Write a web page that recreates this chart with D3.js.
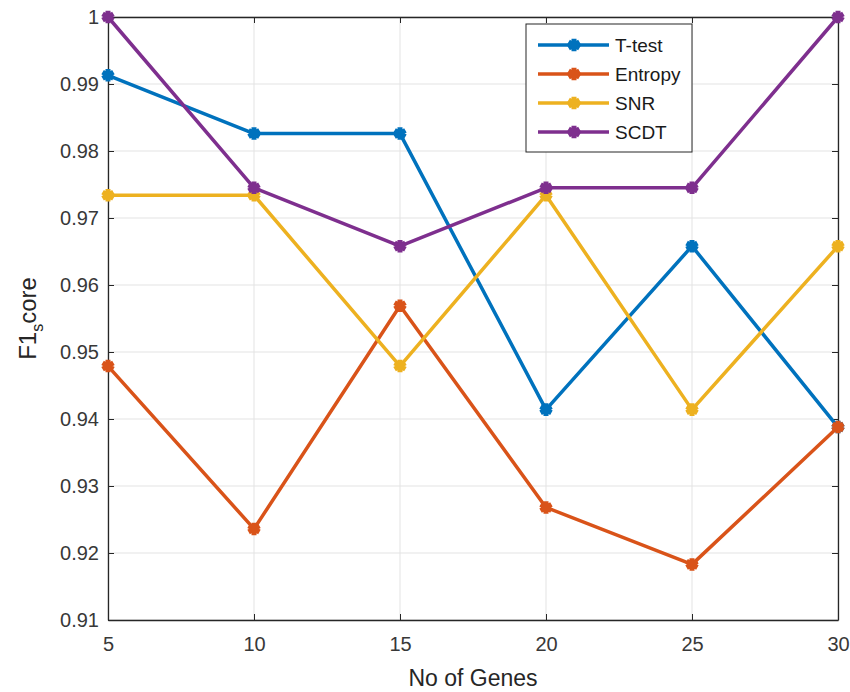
<!DOCTYPE html>
<html>
<head>
<meta charset="utf-8">
<script src="https://cdn.jsdelivr.net/npm/d3@7"></script>
<style>
body { margin: 0; background: #fff; }
text { font-family: "Liberation Sans", Arial, sans-serif; }
</style>
</head>
<body>
<script>
var genes = [5, 10, 15, 20, 25, 30];
var ttest = [0.9913, 0.9826, 0.9826, 0.9414, 0.9658, 0.9388];
var entropy = [0.9479, 0.9236, 0.9569, 0.9268, 0.9183, 0.9388];
var snr = [0.9734, 0.9734, 0.9479, 0.9734, 0.9414, 0.9658];
var scdt = [1.0, 0.9745, 0.9658, 0.9745, 0.9745, 1.0];
var seriesNames = ["T-test", "Entropy", "SNR", "SCDT"];
var seriesColors = ["#0072BD", "#D95319", "#EDB120", "#7E2F8E"];
var yTicks = [0.91, 0.92, 0.93, 0.94, 0.95, 0.96, 0.97, 0.98, 0.99, 1];

var allSeries = [ttest, entropy, snr, scdt];

var W = 850, H = 692;
var pL = 108, pR = 838, pT = 17, pB = 620;

var svg = d3.select("body").append("svg")
    .attr("width", W)
    .attr("height", H);

var x = d3.scaleLinear().domain([5, 30]).range([pL, pR]);
var y = d3.scaleLinear().domain([0.91, 1]).range([pB, pT]);

// grid
var grid = svg.append("g");
grid.selectAll("line.gx").data(genes).enter().append("line")
    .attr("x1", d => x(d)).attr("x2", d => x(d))
    .attr("y1", pT).attr("y2", pB)
    .attr("stroke", "#e3e3e3").attr("stroke-width", 1);
grid.selectAll("line.gy").data(yTicks).enter().append("line")
    .attr("y1", d => y(d)).attr("y2", d => y(d))
    .attr("x1", pL).attr("x2", pR)
    .attr("stroke", "#e3e3e3").attr("stroke-width", 1);

// axes
var tickLen = 6;
var xAxis = d3.axisBottom(x).tickValues(genes).tickSizeInner(-tickLen).tickSizeOuter(0).tickPadding(17);
var yAxis = d3.axisLeft(y).tickValues(yTicks).tickSizeInner(-tickLen).tickSizeOuter(0).tickPadding(9)
    .tickFormat(d => d === 1 ? "1" : d3.format(".2f")(d));
var xTop = d3.axisTop(x).tickValues(genes).tickSizeInner(-tickLen).tickSizeOuter(0).tickFormat("");
var yRight = d3.axisRight(y).tickValues(yTicks).tickSizeInner(-tickLen).tickSizeOuter(0).tickFormat("");

function styleAxis(g) {
    g.select(".domain").attr("stroke", "#262626").attr("stroke-width", 1.3);
    g.selectAll(".tick line").attr("stroke", "#262626").attr("stroke-width", 1);
    g.selectAll(".tick text").attr("fill", "#383838").style("font-size", "20px");
}

svg.append("g").attr("transform", "translate(0," + pB + ")").call(xAxis).call(styleAxis);
svg.append("g").attr("transform", "translate(" + pL + ",0)").call(yAxis).call(styleAxis);
svg.append("g").attr("transform", "translate(0," + pT + ")").call(xTop).call(styleAxis);
svg.append("g").attr("transform", "translate(" + pR + ",0)").call(yRight).call(styleAxis);

// lines + markers
var line = d3.line().x((d, i) => x(genes[i])).y(d => y(d));
var star = d3.symbol().type(d3.symbolAsterisk).size(110);

allSeries.forEach(function(s, k) {
    svg.append("path").datum(s)
        .attr("d", line)
        .attr("fill", "none")
        .attr("stroke", seriesColors[k])
        .attr("stroke-width", 3.5)
        .attr("stroke-linejoin", "round");
    svg.selectAll("path.m" + k).data(s).enter().append("path")
        .attr("class", "m" + k)
        .attr("d", star)
        .attr("transform", (d, i) => "translate(" + x(genes[i]) + "," + y(d) + ")")
        .attr("fill", seriesColors[k])
        .attr("stroke", seriesColors[k])
        .attr("stroke-width", 5);
});

// legend
var lg = svg.append("g");
lg.append("rect")
    .attr("x", 526).attr("y", 24).attr("width", 166).attr("height", 128)
    .attr("fill", "#fff").attr("stroke", "#262626").attr("stroke-width", 1);
seriesNames.forEach(function(n, k) {
    var yy = 45 + k * 29;
    lg.append("line").attr("x1", 538).attr("x2", 609).attr("y1", yy).attr("y2", yy)
        .attr("stroke", seriesColors[k]).attr("stroke-width", 3.5);
    lg.append("path").attr("d", star).attr("transform", "translate(574," + yy + ")")
        .attr("fill", seriesColors[k]).attr("stroke", seriesColors[k]).attr("stroke-width", 5);
    lg.append("text").attr("x", 615).attr("y", yy).attr("dy", "0.36em")
        .style("font-size", "19px").attr("fill", "#1a1a1a").text(n);
});

// axis labels
svg.append("text").attr("x", (pL + pR) / 2).attr("y", 686)
    .attr("text-anchor", "middle").style("font-size", "23px").attr("fill", "#262626")
    .text("No of Genes");

var yl = svg.append("text")
    .attr("transform", "translate(36," + ((pT + pB) / 2) + ") rotate(-90)")
    .attr("text-anchor", "middle").style("font-size", "24px").attr("fill", "#262626");
yl.append("tspan").text("F1");
yl.append("tspan").attr("dy", 7).style("font-size", "16px").text("s");
yl.append("tspan").attr("dy", -7).text("core");
</script>
</body>
</html>
